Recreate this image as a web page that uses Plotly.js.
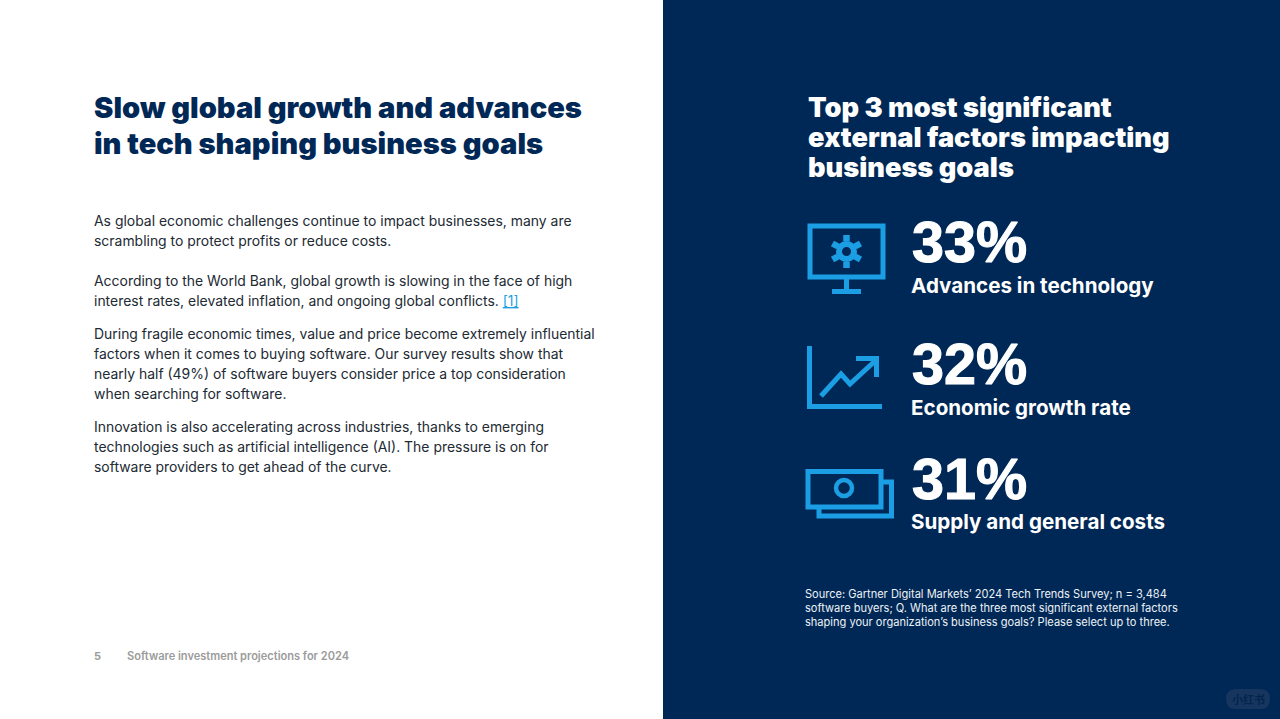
<!DOCTYPE html>
<html><head><meta charset="utf-8">
<script src="https://cdn.plot.ly/plotly-3.0.1.min.js"></script>
<style>html,body{margin:0;padding:0;background:#fff;overflow:hidden}#c{width:1280px;height:719px}
.textpoint text{stroke:#fff;stroke-width:1.1px}</style>
</head><body><div id="c"></div>
<script>
const factorValues = [33, 32, 31];
const factorLabels = ["Advances in technology", "Economic growth rate", "Supply and general costs"];
const leftTitle = ["Slow global growth and advances", "in tech shaping business goals"];
const rightTitle = ["Top 3 most significant", "external factors impacting", "business goals"];
const bodyLines = [
 "As global economic challenges continue to impact businesses, many are",
 "scrambling to protect profits or reduce costs.",
 "According to the World Bank, global growth is slowing in the face of high",
 "interest rates, elevated inflation, and ongoing global conflicts. <a href='#' style='color:#1f9fe3'><u>[1]</u></a>",
 "During fragile economic times, value and price become extremely influential",
 "factors when it comes to buying software. Our survey results show that",
 "nearly half (49%) of software buyers consider price a top consideration",
 "when searching for software.",
 "Innovation is also accelerating across industries, thanks to emerging",
 "technologies such as artificial intelligence (AI). The pressure is on for",
 "software providers to get ahead of the curve."
];
const sourceLines = [
 "Source: Gartner Digital Markets’ 2024 Tech Trends Survey; n = 3,484",
 "software buyers; Q. What are the three most significant external factors",
 "shaping your organization’s business goals? Please select up to three."
];
const pageNumber = "5";
const footerText = "Software investment projections for 2024";

const NAVY = "#002856", BLUE = "#1b9ee3", INK = "#222a33", GREY = "#9b9b9b";
const FONT = "Inter, 'Noto Sans', sans-serif";
const bodyY = [220,240,280,300,333,353,373,393,426,446,466];
const pctY = [248,370,485], labelY = [285,407,521];

function note(text, x, y, size, color, weight, extra) {
  return Object.assign({xref:"x", yref:"y", x:x-2, y, text, showarrow:false, xanchor:"left", yanchor:"middle",
    align:"left", font:{family:FONT, size, color, weight:weight||400}}, extra||{});
}
const annotations = [];
leftTitle.forEach((t,i)=>annotations.push(note(t,93.5,[107.5,143.5][i],29.1,NAVY,900)));
rightTitle.forEach((t,i)=>annotations.push(note(t,807.5,[107,137,167][i],27.2,"#fff",900)));
bodyLines.forEach((t,i)=>annotations.push(note(t,94,bodyY[i],13.95,INK,400)));
factorLabels.forEach((t,i)=>annotations.push(note(t,911,labelY[i],20.6,"#fff",700)));
sourceLines.forEach((t,i)=>annotations.push(note(t,804.8,[594,608,622][i],11.05,"#eef2f7",400)));
annotations.push(note(pageNumber,94,656,11,GREY,700));
annotations.push(note(footerText,127,656,11.05,GREY,600));
annotations.push(Object.assign(note("小红书",1248,699,11,"#34507a",700,{xanchor:"center"}),{x:1248,font:{family:"'Noto Sans CJK SC'",size:11,color:"#07244b",weight:700}}));

const ln = (w)=>({color:BLUE,width:w});
const line=(x0,y0,x1,y1,w)=>({type:"line",x0,y0,x1,y1,line:ln(w),layer:"above"});
const box=(x0,y0,x1,y1,w)=>({type:"rect",x0,y0,x1,y1,line:ln(w),layer:"above"});
const fill=(x0,y0,x1,y1)=>({type:"rect",x0,y0,x1,y1,fillcolor:BLUE,line:{width:0},layer:"above"});
const shapes = [
 {type:"rect",x0:663,x1:1280,y0:0,y1:719,fillcolor:NAVY,line:{width:0},layer:"below"},
 // monitor
 box(810,226,883,277,5), fill(844,277,849,290), fill(832,289,861,294),
 // gear
 {type:"circle",x0:839,y0:244,x1:854,y1:259,line:ln(6),layer:"above"},
 line(846.5,235,846.5,241.5,6.5), line(846.5,261.5,846.5,268,6.5),
 line(832.5,243.5,838,246.5,6.5), line(855,256.5,860.5,259.5,6.5),
 line(832.5,259.5,838,256.5,6.5), line(855,246.5,860.5,243.5,6.5),
 // chart icon
 {type:"path",path:"M 809.5 346 L 809.5 406.5 L 882 406.5",line:ln(5),layer:"above"},
 {type:"path",path:"M 821 396 L 841 374 L 850 384 L 875 361",line:ln(5),layer:"above"},
 {type:"path",path:"M 856 358.5 L 876.5 358.5 L 876.5 377",line:ln(5),layer:"above"},
 // money
 box(808,471.5,881,507,5),
 {type:"path",path:"M 881 482 L 891.5 482 L 891.5 516 L 819 516 L 819 507",line:ln(5),layer:"above"},
 {type:"circle",x0:836,y0:480,x1:852,y1:496,line:ln(4.5),layer:"above"},
 // watermark pill
 {type:"path",path:"M 1236 689 L 1260 689 Q 1270 689 1270 699 Q 1270 709 1260 709 L 1236 709 Q 1226 709 1226 699 Q 1226 689 1236 689 Z",fillcolor:"#16365f",line:{width:0},layer:"below"}
];

const trace = {
  type:"scatter", mode:"text", cliponaxis:false, hoverinfo:"skip",
  x: factorValues.map(()=>912), y: pctY,
  text: factorValues.map(v=>v+"%"), textposition:"middle right",
  textfont:{family:"'Liberation Sans', Arial, sans-serif",size:57.5,color:"#fff",weight:700}
};
const layout = {
  width:1280,height:719,margin:{l:0,r:0,t:0,b:0},showlegend:false,
  paper_bgcolor:"#fff",plot_bgcolor:"rgba(0,0,0,0)",
  xaxis:{range:[0,1280],visible:false,fixedrange:true},
  yaxis:{range:[719,0],visible:false,fixedrange:true},
  shapes,annotations
};
Plotly.newPlot("c",[trace],layout,{displayModeBar:false});
</script></body></html>
